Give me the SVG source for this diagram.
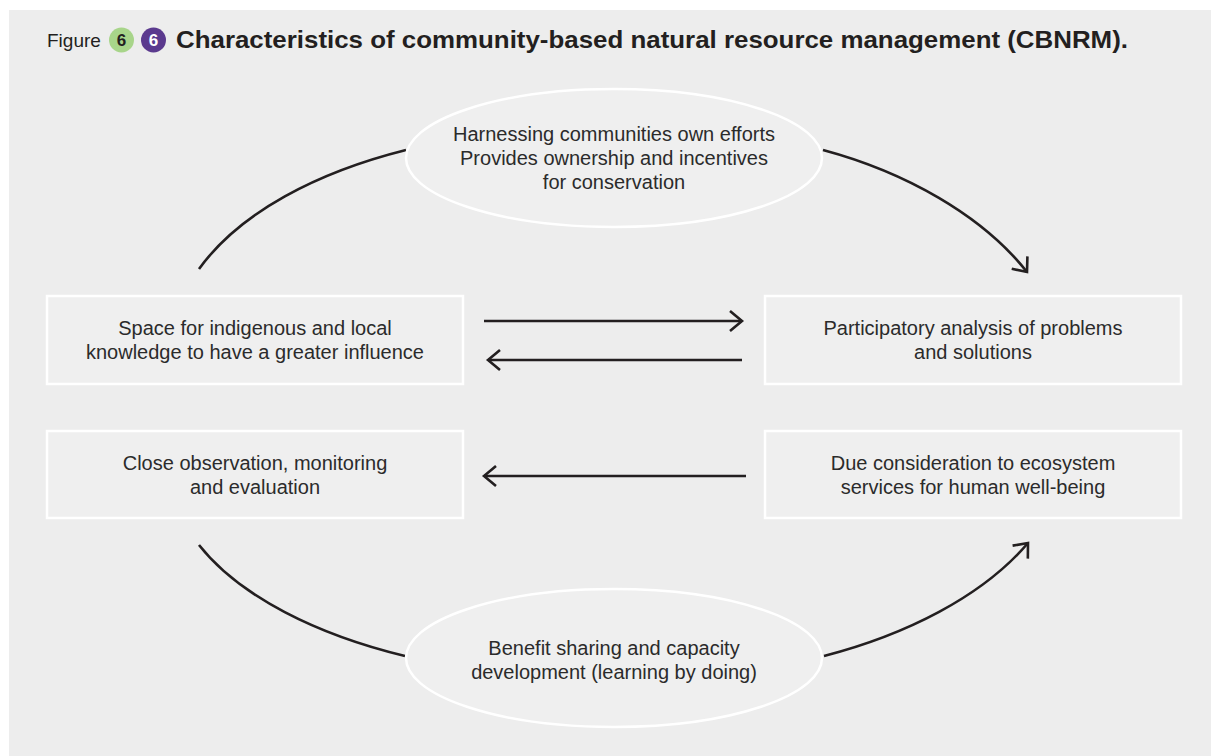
<svg xmlns="http://www.w3.org/2000/svg" width="1211" height="756" viewBox="0 0 1211 756">
<defs>
<style>
.node{fill:#efefef;stroke:#ffffff;stroke-width:2.5}
.t{font-family:"Liberation Sans",Arial,sans-serif;font-size:20px;fill:#2b2b2b;text-anchor:middle}
.c{fill:none;stroke:#231f20;stroke-width:2.6}
</style>
<marker id="ah" markerUnits="userSpaceOnUse" markerWidth="18" markerHeight="26" refX="13" refY="12" orient="auto" viewBox="0 0 18 26">
<path d="M1,2 L13,12 L1,22" fill="none" stroke="#231f20" stroke-width="2.6"/>
</marker>
</defs>
<rect x="0" y="0" width="1211" height="756" fill="#ffffff"/>
<rect x="9" y="10" width="1202" height="746" fill="#ededed"/>
<g id="title">
<text x="47" y="47" font-family="'Liberation Sans',Arial,sans-serif" font-size="19" fill="#231f20">Figure</text>
<circle cx="121.5" cy="40" r="12.5" fill="#a8d58a"/>
<text x="121.5" y="46" font-family="'Liberation Sans',Arial,sans-serif" font-size="17" font-weight="bold" fill="#231f20" text-anchor="middle">6</text>
<circle cx="153.5" cy="40" r="12.5" fill="#5b3a8e"/>
<text x="153.5" y="46" font-family="'Liberation Sans',Arial,sans-serif" font-size="17" font-weight="bold" fill="#ffffff" text-anchor="middle">6</text>
<text x="176" y="48" font-family="'Liberation Sans',Arial,sans-serif" font-size="24" font-weight="bold" fill="#231f20" textLength="952" lengthAdjust="spacingAndGlyphs">Characteristics of community-based natural resource management (CBNRM).</text>
</g>
<g id="connectors">
<path class="c" d="M199,269 C240,212 318,172 406,150"/>
<path class="c" d="M823,150 C905,172 982,215 1027,272" marker-end="url(#ah)"/>
<path class="c" d="M199,545 C240,597 318,635 405,656"/>
<path class="c" d="M824,656 C905,635 982,597 1028,543" marker-end="url(#ah)"/>
<line class="c" x1="484" y1="321" x2="742" y2="321" marker-end="url(#ah)"/>
<line class="c" x1="742" y1="360" x2="488" y2="360" marker-end="url(#ah)"/>
<line class="c" x1="746" y1="476" x2="484" y2="476" marker-end="url(#ah)"/>
</g>
<g id="n-top">
<ellipse class="node" cx="614" cy="158" rx="208" ry="69"/>
<text class="t" x="614" y="141">Harnessing communities own efforts</text>
<text class="t" x="614" y="165">Provides ownership and incentives</text>
<text class="t" x="614" y="189">for conservation</text>
</g>
<g id="n-space">
<rect class="node" x="47" y="296" width="416" height="88"/>
<text class="t" x="255" y="335">Space for indigenous and local</text>
<text class="t" x="255" y="359">knowledge to have a greater influence</text>
</g>
<g id="n-participatory">
<rect class="node" x="765" y="296" width="416" height="88"/>
<text class="t" x="973" y="335">Participatory analysis of problems</text>
<text class="t" x="973" y="359">and solutions</text>
</g>
<g id="n-close">
<rect class="node" x="47" y="431" width="416" height="87"/>
<text class="t" x="255" y="470">Close observation, monitoring</text>
<text class="t" x="255" y="494">and evaluation</text>
</g>
<g id="n-due">
<rect class="node" x="765" y="431" width="416" height="87"/>
<text class="t" x="973" y="470">Due consideration to ecosystem</text>
<text class="t" x="973" y="494">services for human well-being</text>
</g>
<g id="n-bottom">
<ellipse class="node" cx="614" cy="658" rx="208" ry="69"/>
<text class="t" x="614" y="655">Benefit sharing and capacity</text>
<text class="t" x="614" y="679">development (learning by doing)</text>
</g>
</svg>
